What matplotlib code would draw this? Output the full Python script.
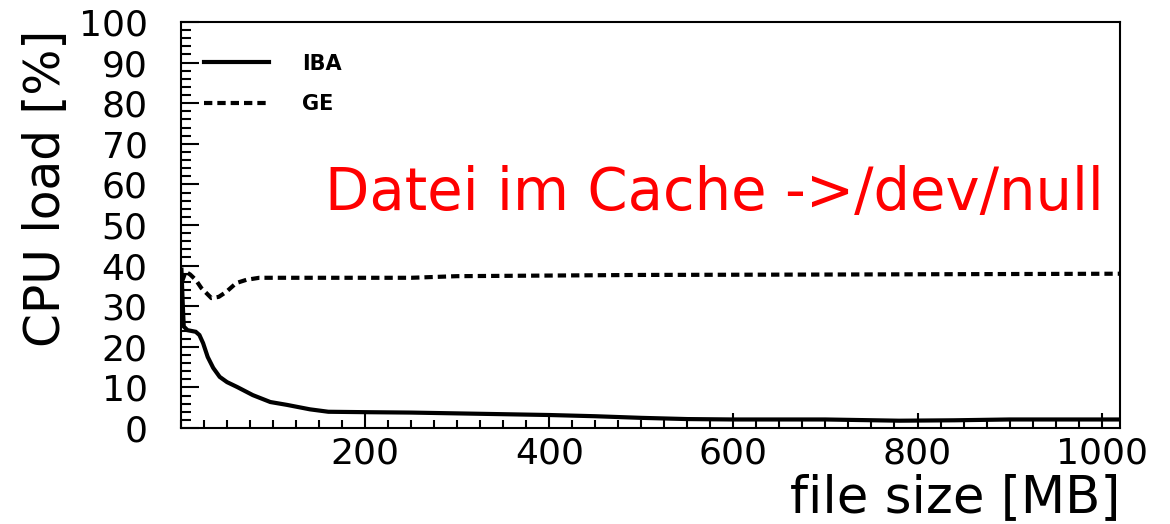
import matplotlib
matplotlib.use("Agg")
from matplotlib import pyplot as plt
from matplotlib.ticker import MultipleLocator, FixedLocator
from matplotlib.lines import Line2D

# file size [MB] and CPU load [%]
iba_size = [0.5, 2, 3, 7, 16, 20, 24, 29, 35, 42, 50, 61, 78, 97, 115, 140, 160,
            200, 250, 300, 350, 400, 450, 500, 550, 600, 700, 780, 840, 900, 1020]
iba_load = [39, 30, 25, 24.1, 23.7, 22.9, 20.9, 17.5, 14.8, 12.6, 11.3, 10.1, 8.1, 6.4,
            5.7, 4.6, 4.0, 3.9, 3.8, 3.6, 3.4, 3.2, 2.9, 2.5, 2.2, 2.1, 2.1, 1.8, 1.9,
            2.1, 2.1]

ge_size = [1, 5, 10, 16, 22, 33, 41, 49, 60, 71, 85, 150, 250, 300, 500, 700, 1020]
ge_load = [36, 38.5, 37.8, 36.5, 34.5, 32, 32.3, 33.5, 35.7, 36.5, 37.0, 37.0, 37.0,
           37.4, 37.7, 37.8, 38.0]

x_ticks = [200, 400, 600, 800, 1000]
y_ticks = list(range(0, 101, 10))
series_labels = ["IBA", "GE"]
note = "Datei im Cache ->/dev/null"

fig = plt.figure(figsize=(11.7, 5.24), dpi=100)
ax = fig.add_axes([0.1547, 0.1832, 0.8026, 0.7748])

ax.plot(iba_size, iba_load, color="black", lw=3, solid_joinstyle="miter")
ax.plot(ge_size, ge_load, color="black", lw=3, linestyle=(0, (2, 1.2)))

ax.set_xlim(0, 1020)
ax.set_ylim(0, 100)
ax.xaxis.set_major_locator(FixedLocator(x_ticks))
ax.xaxis.set_minor_locator(MultipleLocator(25))
ax.yaxis.set_major_locator(FixedLocator(y_ticks))
ax.yaxis.set_minor_locator(MultipleLocator(2))

ax.tick_params(axis="both", which="both", direction="in", width=1.5,
               top=False, right=False)
ax.tick_params(axis="x", which="major", length=11, pad=6, labelsize=26)
ax.tick_params(axis="x", which="minor", length=6)
ax.tick_params(axis="y", which="major", length=13, pad=24, labelsize=26)
ax.tick_params(axis="y", which="minor", length=7)
for sp in ax.spines.values():
    sp.set_linewidth(1.5)

ax.set_xlabel("file size [MB]", fontsize=37, loc="right")
ax.xaxis.set_label_coords(1.0, -0.11)
ax.set_ylabel("CPU load [%]", fontsize=35, loc="top")
ax.yaxis.set_label_coords(-0.118, 0.98)

handles = [Line2D([], [], color="black", lw=3),
           Line2D([], [], color="black", lw=3, linestyle=(0, (2, 1.2)))]
ax.legend(handles, series_labels, loc="upper left", bbox_to_anchor=(0.025, 0.922),
          frameon=False, prop={"size": 15, "weight": "bold"}, handlelength=3.1,
          handletextpad=1.6, labelspacing=0.97, borderpad=0, borderaxespad=0)

ax.text(156, 53.7, note, color="#ff0000", fontsize=41.5, ha="left", va="baseline")

plt.savefig("out.png", dpi=100)
plt.close(fig)
